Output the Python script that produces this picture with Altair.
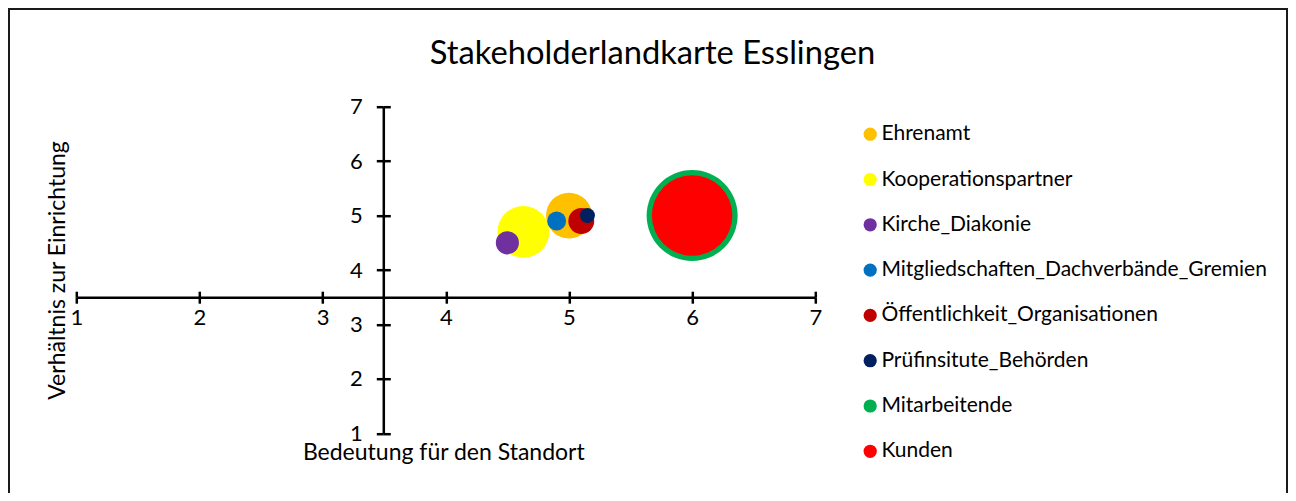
import altair as alt
import pandas as pd

# ---- data ----
names = [
    "Ehrenamt",
    "Kooperationspartner",
    "Kirche_Diakonie",
    "Mitgliedschaften_Dachverbände_Gremien",
    "Öffentlichkeit_Organisationen",
    "Prüfinsitute_Behörden",
    "Mitarbeitende",
    "Kunden",
]
bedeutung = [5.0, 4.63, 4.5, 4.9, 5.1, 5.15, 6.0, 6.0]
verhaeltnis = [5.0, 4.7, 4.5, 4.9, 4.9, 5.0, 5.0, 5.0]
groesse = [9.4, 12.0, 2.4, 1.6, 3.0, 1.0, 37.0, 29.0]
farben = ["#FFC000", "#FFFF00", "#7030A0", "#0070C0", "#C00000", "#002060", "#00B050", "#FF0000"]
x_ticks = [1, 2, 3, 4, 5, 6, 7]
y_ticks = [1, 2, 3, 4, 5, 6, 7]

df = pd.DataFrame({
    "name": names,
    "x": bedeutung,
    "y": verhaeltnis,
    "groesse": groesse,
    "idx": list(range(len(names))),
})

FONT = "Lato"
W, H = 739, 326.6
xs = alt.Scale(domain=[1, 7], nice=False, zero=False)
ys = alt.Scale(domain=[1, 7], nice=False, zero=False)

common_axis = dict(grid=False, domainColor="black", tickColor="black", labelColor="black",
                   labelFont=FONT, labelFontSize=22, labelFlush=False, labelOverlap=False,
                   domainWidth=2.5, tickWidth=2.5)

points = alt.Chart(df).mark_circle(opacity=1).encode(
    x=alt.X("x:Q", scale=xs, axis=alt.Axis(
        orient="bottom", offset=-136.1, values=x_ticks, tickSize=6, labelPadding=4,
        title="Bedeutung für den Standort", titleFont=FONT, titleFontSize=23,
        titleFontWeight="normal", titleColor="black", titleX=367, titleY=162.5,
        titleBaseline="alphabetic", titleAlign="center", **common_axis)),
    y=alt.Y("y:Q", scale=ys, axis=alt.Axis(
        orient="left", offset=-307, values=y_ticks, tickSize=7, labelPadding=14,
        title="Verhältnis zur Einrichtung", titleFont=FONT, titleFontSize=23,
        titleFontWeight="normal", titleColor="black", titleX=-319.3, titleY=163.3,
        titleAngle=-90, titleBaseline="alphabetic", titleAlign="center", **common_axis)),
    size=alt.Size("groesse:Q", scale=alt.Scale(domain=[0, 37], range=[0, 8281]), legend=None),
    color=alt.Color("name:N", scale=alt.Scale(domain=names, range=farben), legend=alt.Legend(
        title=None, orient="none", legendX=783.4, legendY=17, symbolType="circle",
        symbolSize=175, symbolStrokeWidth=0, symbolOpacity=1, labelFont=FONT, labelFontSize=21,
        labelColor="black", labelOffset=0.7, rowPadding=23.3, padding=0, labelLimit=600)),
    order=alt.Order("idx:Q"),
)

ticks_other_side = alt.Chart(df).mark_circle(opacity=0).encode(
    x=alt.X("x:Q", scale=xs, axis=alt.Axis(
        orient="top", offset=-190.5, values=x_ticks, tickSize=6, labels=False, domain=False,
        title=None, grid=False, tickColor="black", tickWidth=2.5)),
    y=alt.Y("y:Q", scale=ys, axis=alt.Axis(
        orient="right", offset=-432, values=y_ticks, tickSize=7, labels=False, domain=False,
        title=None, grid=False, tickColor="black", tickWidth=2.5)),
)

frame = alt.Chart(pd.DataFrame({"a": [0]})).mark_rect(
    filled=False, stroke="#1a1a1a", strokeWidth=2
).encode(
    x=alt.value(-67.3), x2=alt.value(1210.7), y=alt.value(-97.7), y2=alt.value(420)
)

chart = alt.layer(frame, points, ticks_other_side).resolve_axis(
    x="independent", y="independent"
).properties(
    width=W, height=H,
    autosize=alt.AutoSizeParams(type="none"),
    padding={"left": 68.3, "top": 98.7, "right": 472.7, "bottom": 59.7},
    title=alt.TitleParams(
        "Stakeholderlandkarte Esslingen", font=FONT, fontSize=32.7, fontWeight="normal",
        color="black", anchor="middle", dx=206.7, baseline="alphabetic", offset=0, dy=89,
    ),
).configure_view(stroke=None)

chart.save("out.html", embed_options={"renderer": "svg", "actions": False})
